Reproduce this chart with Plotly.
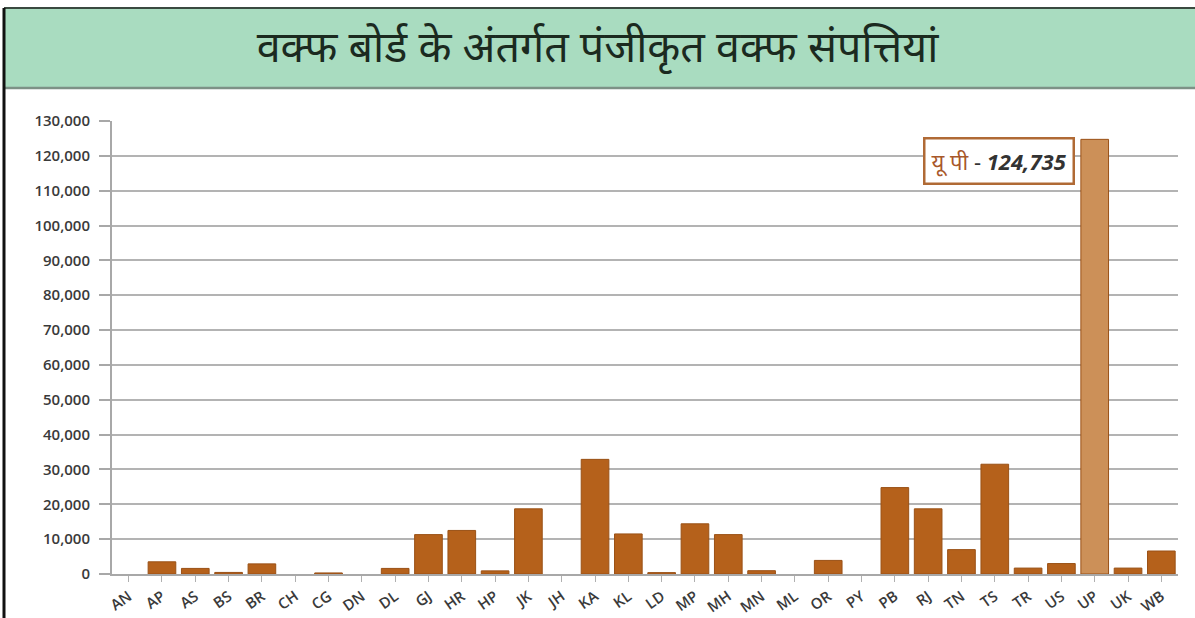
import plotly.graph_objects as go

# Registered waqf properties by state / waqf board
states = ["AN", "AP", "AS", "BS", "BR", "CH", "CG", "DN", "DL", "GJ", "HR", "HP",
          "JK", "JH", "KA", "KL", "LD", "MP", "MH", "MN", "ML", "OR", "PY", "PB",
          "RJ", "TN", "TS", "TR", "US", "UP", "UK", "WB"]
properties = [0, 3500, 1600, 450, 2900, 0, 300, 0, 1600, 11300, 12500, 900,
              18700, 0, 32900, 11500, 400, 14400, 11300, 950, 0, 3900, 0, 24800,
              18700, 7000, 31500, 1700, 3000, 124735, 1700, 6600]
highlight_state = "UP"
highlight_label = "यू पी"
y_ticks = list(range(0, 130001, 10000))

title_text = "वक्फ बोर्ड के अंतर्गत पंजीकृत वक्फ संपत्तियां"

BAR = "#b5611b"
BAR_HL = "#cc9058"
colors = [BAR_HL if s == highlight_state else BAR for s in states]
outline_w = [1 if v > 0 else 0 for v in properties]

W, H = 1195, 618
ML_, MR_, MT_, MB_ = 112, 17, 121, 44
pw, ph = W - ML_ - MR_, H - MT_ - MB_


def px_x(p):
    return (p - ML_) / pw


def px_y(p):
    return (H - MB_ - p) / ph


fig = go.Figure(go.Bar(
    x=states, y=properties,
    marker=dict(color=colors, line=dict(color="#9a5116", width=outline_w)),
    hoverinfo="x+y",
))

hl_value = properties[states.index(highlight_state)]
fig.add_annotation(
    x=highlight_state, y=hl_value, xref="x", yref="y",
    xanchor="right", yanchor="top", xshift=-20, yshift=2,
    showarrow=False,
    text=f"<span style='color:#a8582a'><i>{highlight_label}</i></span>"
         f"<span style='color:#333333'> - <b><i>{hl_value:,}</i></b></span>",
    font=dict(family="Noto Sans, Open Sans, sans-serif", size=22),
    bgcolor="white", bordercolor="#b06a35", borderwidth=2.5, borderpad=6,
)

shapes = [
    # green title band
    dict(type="rect", xref="paper", yref="paper",
         x0=px_x(4), x1=px_x(W + 2), y0=px_y(88), y1=px_y(8),
         fillcolor="#a9dcc0", line=dict(width=0), layer="below"),
    # band bottom edge
    dict(type="line", xref="paper", yref="paper",
         x0=px_x(4), x1=px_x(W + 2), y0=px_y(88), y1=px_y(88),
         line=dict(color="#7d9186", width=2.5)),
    # top frame line
    dict(type="line", xref="paper", yref="paper",
         x0=px_x(4), x1=px_x(W + 2), y0=px_y(8), y1=px_y(8),
         line=dict(color="#3a4a40", width=2)),
    # left frame line
    dict(type="line", xref="paper", yref="paper",
         x0=px_x(4), x1=px_x(4), y0=px_y(8), y1=px_y(H + 2),
         line=dict(color="#111111", width=3)),
]

fig.update_layout(
    width=W, height=H,
    margin=dict(l=ML_, r=MR_, t=MT_, b=MB_),
    paper_bgcolor="white", plot_bgcolor="white",
    bargap=0.17,
    showlegend=False,
    shapes=shapes,
    title=dict(text=title_text, x=0.5, xanchor="center",
               yref="container", y=1 - 47 / H, yanchor="middle",
               font=dict(family="Noto Sans, sans-serif", size=43, color="#1b2a1f")),
    xaxis=dict(
        type="category", categoryorder="array", categoryarray=states,
        range=[-0.5, len(states) - 0.5],
        automargin=False,
        tickangle=-35,
        tickfont=dict(family="Open Sans, sans-serif", size=15, color="#3a3a3a",
                      weight=600),
        showline=True, linecolor="#a8a8a8", linewidth=2,
        ticks="outside", ticklen=6, tickcolor="#b0b0b0", tickwidth=1,
        showgrid=False,
    ),
    yaxis=dict(
        range=[0, 130000],
        automargin=False,
        tickvals=y_ticks, ticktext=[f"{v:,}" for v in y_ticks],
        tickfont=dict(family="Open Sans, sans-serif", size=15, color="#3a3a3a",
                      weight=600),
        showline=True, linecolor="#a8a8a8", linewidth=2,
        ticks="outside", ticklen=11, tickcolor="#a8a8a8", tickwidth=2,
        ticklabelstandoff=6,
        showgrid=True, gridcolor="#b3b3b3", gridwidth=2,
        zeroline=False,
    ),
)

fig.write_html("out.html")
